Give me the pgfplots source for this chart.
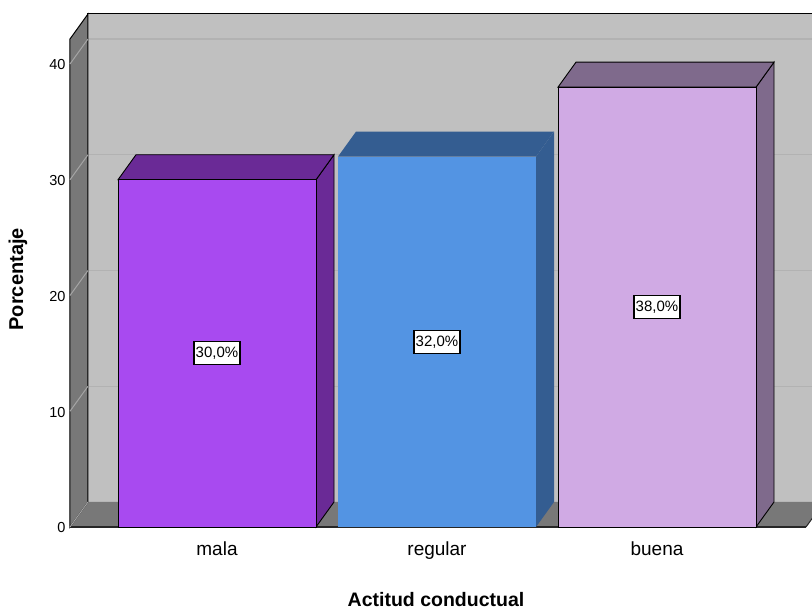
\documentclass[border=0pt]{standalone}
\usepackage{pgfplots}
\pgfplotsset{compat=1.18}
\usepackage{fontspec}
\setmainfont{Liberation Sans}

\definecolor{malaF}{RGB}{168,74,240}
\definecolor{malaD}{RGB}{106,42,150}
\definecolor{regF}{RGB}{83,148,227}
\definecolor{regD}{RGB}{52,93,145}
\definecolor{bueF}{RGB}{208,170,228}
\definecolor{bueD}{RGB}{127,106,140}
\definecolor{wallC}{RGB}{192,192,192}
\definecolor{sideC}{RGB}{120,120,120}
\definecolor{gridB}{RGB}{178,178,178}
\definecolor{gridS}{RGB}{165,165,165}

\begin{document}
\begin{tikzpicture}[x=1pt,y=1pt]
\begin{axis}[
  scale only axis,
  width=742pt, height=513pt,
  xmin=-0.6682, xmax=2.7045,
  ymin=0, ymax=44.32,
  clip=false,
  axis line style={draw=none},
  major tick length=0pt,
  ytick={0,10,20,30,40},
  xtick={0,1,2},
  xticklabels={mala,regular,buena},
  /pgf/number format/assume math mode=true,
  yticklabel style={font=\fontsize{14.5}{16}\selectfont, xshift=-1pt, yshift=-1pt},
  xticklabel style={font=\fontsize{19}{21}\selectfont, yshift=-11pt},
  xlabel={Actitud conductual},
  ylabel={Porcentaje},
  xlabel style={font=\bfseries\fontsize{19.5}{22}\selectfont,
    at={(axis description cs:0.4933,-0.1423)}, anchor=center},
  ylabel style={font=\bfseries\fontsize{20}{22}\selectfont,
    at={(axis description cs:-0.0701,0.483)}, anchor=center},
]
% back wall
\addplot[fill=wallC, draw=none] coordinates {(-0.5864,2.16) (2.80,2.16) (2.80,44.32) (-0.5864,44.32)} --cycle;
% gridlines on the back wall
\addplot[gridB, line width=1.2pt] coordinates {(-0.5864,12.16) (2.80,12.16)};
\addplot[gridB, line width=1.2pt] coordinates {(-0.5864,22.16) (2.80,22.16)};
\addplot[gridB, line width=1.2pt] coordinates {(-0.5864,32.16) (2.80,32.16)};
\addplot[gridB, line width=1.2pt] coordinates {(-0.5864,42.16) (2.80,42.16)};
\addplot[black, line width=1pt] coordinates {(-0.5864,2.16) (-0.5864,44.32) (2.80,44.32)};
% floor
\addplot[fill=sideC, draw=none] coordinates {(-0.6682,0) (2.6773,0) (2.7591,2.16) (-0.5864,2.16)} --cycle;
\addplot[black!85, line width=1pt] coordinates {(2.6773,0) (2.7591,2.16)};
\addplot[black!85, line width=2pt] coordinates {(-0.6682,0) (2.6773,0)};
% side wall
\addplot[fill=sideC, draw=black, line width=1pt] coordinates {(-0.6682,0) (-0.5864,2.16) (-0.5864,44.32) (-0.6682,42.16)} --cycle;
% gridline slants on the side wall
\addplot[gridS, line width=1pt] coordinates {(-0.6682,0) (-0.5864,2.16)};
\addplot[gridS, line width=1pt] coordinates {(-0.6682,10) (-0.5864,12.16)};
\addplot[gridS, line width=1pt] coordinates {(-0.6682,20) (-0.5864,22.16)};
\addplot[gridS, line width=1pt] coordinates {(-0.6682,30) (-0.5864,32.16)};
\addplot[gridS, line width=1pt] coordinates {(-0.6682,40) (-0.5864,42.16)};

% bar: mala (30)
\addplot[fill=malaD, draw=black, line width=0.9pt] coordinates {(0.45,0) (0.5318,2.16) (0.5318,32.16) (0.45,30)} --cycle;
\addplot[fill=malaD, draw=black, line width=0.9pt] coordinates {(-0.45,30) (-0.3682,32.16) (0.5318,32.16) (0.45,30)} --cycle;
\addplot[ybar, bar width=0.9, bar shift=0pt, fill=malaF, draw=black, line width=0.9pt] coordinates {(0,30)};
% bar: regular (32)
\addplot[fill=regD, draw=none] coordinates {(1.45,0) (1.5318,2.16) (1.5318,34.16) (1.45,32)} --cycle;
\addplot[fill=regD, draw=none] coordinates {(0.55,32) (0.6318,34.16) (1.5318,34.16) (1.45,32)} --cycle;
\addplot[ybar, bar width=0.9, bar shift=0pt, fill=regF, draw=none] coordinates {(1,32)};
% bar: buena (38)
\addplot[fill=bueD, draw=black, line width=0.9pt] coordinates {(2.45,0) (2.5318,2.16) (2.5318,40.16) (2.45,38)} --cycle;
\addplot[fill=bueD, draw=black, line width=0.9pt] coordinates {(1.55,38) (1.6318,40.16) (2.5318,40.16) (2.45,38)} --cycle;
\addplot[ybar, bar width=0.9, bar shift=0pt, fill=bueF, draw=black, line width=0.9pt] coordinates {(2,38)};

% value labels at half height
\tikzset{vlab/.style={fill=white, draw=black, line width=1.2pt, inner xsep=1pt,
  minimum height=23pt, minimum width=46pt,
  font=\fontsize{15}{17}\selectfont}}
\node[vlab] at (axis cs:0,15) {30,0\%};
\node[vlab] at (axis cs:1,16) {32,0\%};
\node[vlab] at (axis cs:2,19) {38,0\%};
\end{axis}
\pgfresetboundingbox
\path[use as bounding box] (-70,-85) rectangle (742,527);
\end{tikzpicture}
\end{document}
